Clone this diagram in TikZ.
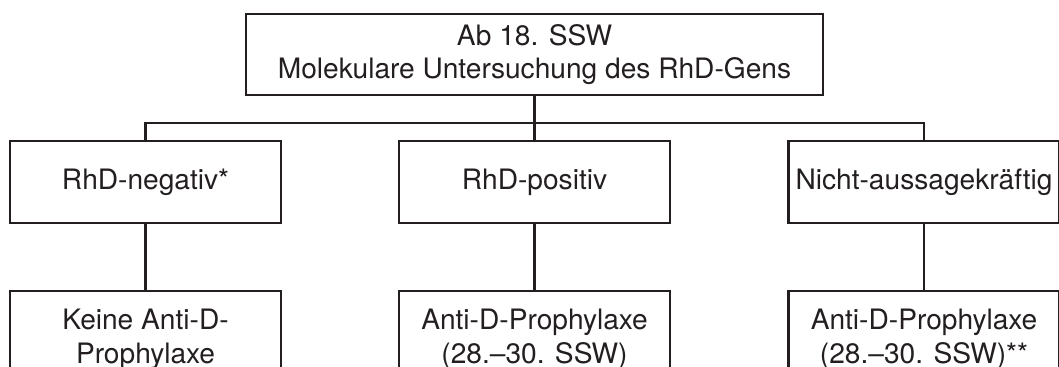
\documentclass[tikz,border=0pt]{standalone}
\usepackage{fontspec}
\setmainfont{TeX Gyre Heros}
\usepackage{tikz}
\definecolor{linie}{RGB}{35,31,32}

\begin{document}
\begin{tikzpicture}[x=0.025cm,y=-0.025cm]
	\tikzstyle{every node}+=[inner sep=0pt]
	\tikzstyle{box}=[draw=linie, line width=1.8pt, text=linie, align=center, font=\fontsize{20}{24}\selectfont, minimum width=6.775cm]
	\tikzstyle{kante}=[draw=linie, line width=1.8pt]
	\clip (0,0) rectangle (1059,367);
	\node [box, minimum width=14.425cm, minimum height=2.025cm] (start) at (534.5,54.5) {Ab 18. SSW\\Molekulare Untersuchung des RhD-Gens};
	\node [box, minimum height=2.05cm] (neg) at (145.5,182) {RhD-negativ*};
	\node [box, minimum height=2.05cm] (pos) at (534.5,182) {RhD-positiv};
	\node [box, minimum height=2.05cm] (unkl) at (924,182) {Nicht-aussagekräftig};
	\node [box, minimum height=2.4cm] (negk) at (145.5,339) {Keine Anti-D-\\Prophylaxe};
	\node [box, minimum height=2.4cm] (posk) at (534.5,339) {Anti-D-Prophylaxe\\(28.--30. SSW)};
	\node [box, minimum height=2.4cm] (unklk) at (924,339) {Anti-D-Prophylaxe\\(28.--30. SSW)**};
	\coordinate (bus) at (534.5,123);
	\draw [kante] (start) -- (pos);
	\draw [kante] (neg.north) -- (neg.north |- bus) -- (unkl.north |- bus) -- (unkl.north);
	\draw [kante] (neg) -- (negk);
	\draw [kante] (pos) -- (posk);
	\draw [kante] (unkl) -- (unklk);
\end{tikzpicture}
\end{document}
